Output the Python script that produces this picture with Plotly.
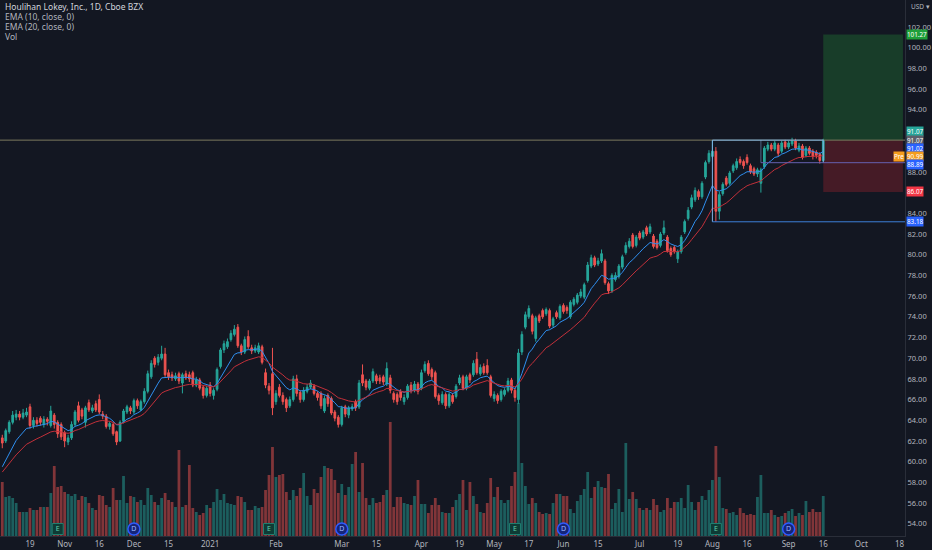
import pandas as pd
import plotly.graph_objects as go

# ---------------- text ----------------
title_text = "Houlihan Lokey, Inc., 1D, Cboe BZX"
legend_lines = ["EMA (10, close, 0)", "EMA (20, close, 0)", "Vol"]
currency_label = "USD ▾"

# ---------------- calendar ----------------
start_date = "2020-10-07"
end_date = "2021-10-29"
holidays = ["2020-11-26", "2020-12-25", "2021-01-01", "2021-01-18", "2021-02-15",
            "2021-04-02", "2021-05-31", "2021-07-05", "2021-09-06"]

tick_dates = ["2020-10-19", "2020-11-02", "2020-11-16", "2020-12-01", "2020-12-15",
              "2021-01-04", "2021-02-01", "2021-03-01", "2021-03-15", "2021-04-01",
              "2021-04-19", "2021-05-03", "2021-05-17", "2021-06-01", "2021-06-15",
              "2021-07-01", "2021-07-19", "2021-08-02", "2021-08-16", "2021-09-01",
              "2021-09-16", "2021-10-01", "2021-10-18"]
tick_labels = ["19", "Nov", "16", "Dec", "15", "2021", "Feb", "Mar", "15", "Apr",
               "19", "May", "17", "Jun", "15", "Jul", "19", "Aug", "16", "Sep",
               "16", "Oct", "18"]
# price-scale labels (those hidden behind badges in the reference are left out)
price_ticks = [54, 56, 58, 60, 62, 64, 66, 68, 70, 72, 74, 76, 78, 80, 82, 84,
               88, 94, 96, 98, 100, 102]

# ---------------- OHLC data (daily) ----------------
opens = [
    62.3, 62.0, 62.9, 63.8, 64.3, 64.6, 64.3, 64.5, 65.3, 63.5,
    64.0, 64.2, 63.6, 64.1, 63.5, 64.5, 63.8, 63.6, 62.8, 61.9,
    62.3, 63.6, 65.4, 65.0, 63.8, 65.7, 64.9, 65.6, 66.0, 64.6,
    64.4, 63.4, 63.6, 62.9, 62.0, 63.9, 64.8, 65.2, 64.8, 65.9,
    65.0, 65.8, 66.8, 68.2, 70.0, 69.6, 70.0, 70.4, 68.6, 68.4,
    68.0, 68.5, 67.6, 68.5, 68.4, 68.6, 67.4, 67.9, 67.2, 66.4,
    67.4, 66.4, 67.0, 69.2, 70.8, 71.1, 71.8, 72.3, 73.0, 71.2,
    70.6, 72.1, 71.0, 70.7, 70.6, 71.1, 68.6, 67.3, 68.5, 65.8,
    67.2, 66.4, 66.0, 65.4, 66.0, 68.0, 66.7, 66.0, 66.8, 67.2,
    67.3, 66.6, 66.6, 64.9, 66.4, 66.1, 64.8, 64.3, 63.6, 65.3,
    64.5, 65.1, 65.8, 65.3, 68.4, 67.8, 67.1, 67.8, 68.3, 68.1,
    68.2, 67.5, 68.1, 66.6, 66.5, 66.8, 65.8, 66.2, 67.4, 66.9,
    67.5, 67.1, 68.8, 69.5, 68.9, 68.6, 66.4, 65.7, 66.5, 65.4,
    66.4, 66.3, 67.6, 68.2, 67.1, 68.4, 68.4, 69.9, 68.5, 69.2,
    69.3, 68.2, 66.1, 66.4, 66.0, 66.5, 66.9, 67.9, 66.9, 66.0,
    70.6, 73.0, 74.0, 74.1, 71.9, 74.1, 74.6, 74.3, 74.6, 73.2,
    74.4, 73.9, 75.1, 74.9, 74.0, 75.2, 75.4, 76.0, 75.9, 77.5,
    78.9, 79.7, 79.1, 79.4, 79.4, 77.2, 76.5, 77.6, 77.9, 78.8,
    80.2, 80.8, 81.9, 80.9, 82.1, 81.7, 82.6, 82.2, 81.8, 81.3,
    80.9, 82.1, 81.7, 80.6, 80.7, 79.6, 80.3, 82.2, 83.5, 84.6,
    85.3, 86.1, 85.6, 87.5, 89.0, 89.5, 90.0, 84.2, 85.9, 87.4,
    86.9, 88.1, 88.4, 89.2, 89.0, 89.4, 88.6, 88.3, 87.8, 86.9,
    88.5, 90.2, 90.6, 90.2, 90.6, 90.0, 90.9, 90.4, 90.7, 91.0,
    90.1, 90.5, 89.6, 90.3, 90.0, 89.9, 89.7, 89.1,
]
highs = [
    62.6, 63.2, 64.0, 64.9, 65.0, 64.9, 65.1, 65.2, 65.6, 64.3,
    64.3, 64.4, 64.4, 64.3, 65.4, 64.7, 64.0, 63.8, 63.0, 62.6,
    63.9, 65.0, 65.8, 65.2, 65.4, 66.0, 65.5, 65.9, 66.5, 64.9,
    64.6, 63.9, 63.8, 63.0, 64.0, 65.1, 65.5, 65.4, 66.1, 66.1,
    66.0, 67.1, 68.8, 69.8, 70.2, 70.4, 71.2, 71.0, 68.9, 68.7,
    68.6, 68.7, 68.6, 68.8, 68.7, 68.8, 68.2, 68.1, 67.4, 67.3,
    67.7, 67.1, 69.1, 71.0, 71.7, 71.9, 72.7, 73.2, 73.3, 71.4,
    72.1, 72.7, 71.3, 71.3, 71.5, 71.3, 69.0, 67.6, 71.0, 66.9,
    67.5, 66.7, 66.2, 66.3, 68.3, 68.4, 66.9, 67.2, 67.5, 67.9,
    67.5, 66.8, 66.8, 66.4, 66.6, 66.3, 65.0, 64.5, 65.4, 65.5,
    65.4, 65.6, 66.0, 67.9, 69.4, 68.0, 68.0, 69.0, 68.5, 68.4,
    68.4, 69.6, 68.4, 66.8, 66.7, 67.0, 66.5, 67.5, 67.7, 67.8,
    67.7, 68.9, 69.7, 69.8, 69.1, 68.8, 66.6, 66.8, 66.7, 66.7,
    66.6, 67.5, 68.4, 68.4, 68.4, 68.6, 69.8, 70.6, 69.4, 69.5,
    69.9, 68.4, 66.8, 66.6, 67.0, 67.1, 68.1, 68.1, 67.1, 70.9,
    72.6, 74.5, 75.1, 74.3, 74.1, 74.3, 74.8, 74.9, 74.8, 74.0,
    74.6, 75.2, 75.3, 75.1, 75.6, 75.9, 76.3, 76.7, 77.3, 79.3,
    80.0, 79.9, 79.7, 80.5, 79.6, 77.4, 78.2, 78.3, 79.1, 80.0,
    81.2, 81.6, 82.1, 81.9, 82.3, 82.4, 82.8, 83.0, 82.0, 81.5,
    82.2, 83.3, 81.9, 80.8, 80.9, 80.5, 81.9, 83.4, 84.6, 85.8,
    86.5, 86.3, 87.1, 89.1, 90.1, 91.07, 90.4, 86.1, 87.0, 87.6,
    88.1, 88.8, 89.3, 89.5, 89.2, 89.7, 88.8, 88.5, 88.4, 88.4,
    90.5, 90.9, 90.8, 91.0, 90.8, 91.0, 91.1, 91.0, 91.3, 91.2,
    90.8, 90.7, 90.5, 90.5, 90.2, 90.1, 89.9, 91.2,
]
lows = [
    61.3, 61.8, 62.7, 63.6, 64.0, 64.0, 64.1, 64.3, 63.2, 63.2,
    63.4, 63.5, 63.3, 63.5, 63.3, 63.2, 62.3, 62.1, 61.4, 61.6,
    62.1, 63.4, 63.8, 64.1, 63.3, 64.8, 64.7, 64.8, 64.6, 64.1,
    63.2, 63.1, 62.5, 61.6, 61.9, 63.7, 64.6, 64.6, 64.6, 65.1,
    64.9, 65.6, 66.6, 68.0, 69.1, 69.3, 69.8, 68.2, 67.9, 67.8,
    67.8, 67.5, 66.6, 67.9, 67.7, 67.2, 67.2, 66.9, 66.1, 66.2,
    66.3, 66.0, 66.8, 69.0, 70.5, 70.9, 71.6, 72.1, 71.0, 70.3,
    70.4, 70.9, 70.4, 70.5, 70.4, 69.4, 67.1, 66.5, 64.5, 65.5,
    66.2, 65.5, 64.8, 65.2, 65.8, 66.3, 65.7, 65.8, 66.6, 67.0,
    66.4, 65.9, 65.1, 64.7, 65.3, 64.5, 63.9, 63.3, 63.4, 64.3,
    64.2, 64.9, 64.9, 65.1, 67.3, 66.9, 66.9, 67.6, 67.5, 67.5,
    67.4, 67.3, 66.6, 65.7, 65.5, 65.9, 65.5, 66.0, 66.6, 66.7,
    66.5, 66.9, 68.6, 68.3, 67.9, 66.1, 65.5, 65.5, 65.1, 65.2,
    65.6, 66.1, 67.4, 66.9, 66.9, 67.6, 68.2, 68.4, 68.3, 68.4,
    68.4, 66.2, 65.8, 65.6, 65.8, 66.3, 66.7, 66.6, 65.8, 65.6,
    70.3, 72.8, 73.8, 72.3, 71.6, 73.4, 73.8, 74.1, 72.9, 73.0,
    73.8, 73.7, 74.3, 74.3, 73.8, 75.0, 75.2, 75.8, 75.7, 77.3,
    78.7, 78.8, 78.9, 79.2, 77.1, 76.2, 76.3, 77.4, 77.7, 78.6,
    80.0, 80.6, 80.6, 80.7, 81.4, 81.5, 81.8, 82.0, 80.6, 80.5,
    80.7, 81.9, 80.2, 79.8, 80.1, 79.2, 80.1, 82.0, 83.3, 84.4,
    85.1, 85.3, 85.4, 87.3, 88.8, 89.3, 83.18, 83.4, 85.7, 86.6,
    86.7, 87.9, 88.2, 88.7, 88.3, 88.7, 87.8, 87.6, 87.5, 86.0,
    88.3, 90.0, 90.0, 90.0, 89.5, 89.8, 90.2, 90.2, 90.5, 90.1,
    89.9, 89.2, 89.4, 89.6, 89.2, 89.3, 88.8, 89.0,
]
closes = [
    61.8, 63.0, 63.8, 64.5, 64.6, 64.3, 64.7, 64.8, 63.5, 64.0,
    63.7, 63.8, 64.1, 63.9, 64.9, 63.6, 62.7, 62.4, 62.0, 62.3,
    63.6, 64.8, 64.0, 64.4, 65.2, 65.0, 65.2, 65.0, 64.8, 64.4,
    63.4, 63.7, 62.7, 61.9, 63.8, 64.9, 65.3, 64.9, 65.9, 65.4,
    65.8, 66.8, 68.5, 69.5, 69.4, 70.1, 70.4, 68.4, 68.2, 68.1,
    68.3, 67.8, 68.4, 68.1, 68.0, 67.4, 67.9, 67.1, 66.4, 67.1,
    66.6, 66.9, 68.9, 70.8, 71.4, 71.6, 72.4, 72.8, 71.2, 70.6,
    71.8, 71.1, 70.7, 71.0, 71.2, 69.6, 67.4, 66.9, 65.2, 66.6,
    66.4, 65.8, 65.2, 66.0, 68.0, 66.6, 66.0, 66.9, 67.2, 67.6,
    66.6, 66.2, 65.4, 66.1, 65.6, 64.7, 64.2, 63.6, 65.2, 64.6,
    65.2, 65.3, 65.2, 67.6, 67.6, 67.2, 67.8, 68.7, 67.8, 67.8,
    67.7, 69.0, 66.9, 66.0, 65.8, 66.2, 66.2, 67.3, 66.9, 67.5,
    66.8, 68.6, 69.4, 68.5, 68.2, 66.3, 65.9, 66.5, 65.4, 66.5,
    65.8, 67.3, 68.1, 67.1, 68.2, 67.9, 69.5, 68.6, 69.1, 68.6,
    68.6, 66.4, 66.5, 65.9, 66.8, 66.9, 67.8, 66.9, 66.2, 70.5,
    72.3, 74.2, 74.8, 72.6, 73.9, 73.6, 74.0, 74.7, 73.1, 73.8,
    74.0, 75.0, 74.5, 74.6, 75.4, 75.7, 76.1, 76.4, 77.1, 79.0,
    79.7, 79.0, 79.4, 80.1, 77.3, 76.5, 78.0, 78.0, 78.9, 79.8,
    80.9, 81.3, 80.8, 81.7, 81.6, 82.2, 82.0, 82.7, 80.8, 80.7,
    82.0, 82.6, 80.4, 80.0, 80.3, 80.3, 81.7, 83.2, 84.3, 85.5,
    86.2, 85.6, 86.9, 88.9, 89.8, 90.0, 84.2, 85.8, 86.8, 86.8,
    87.9, 88.6, 89.0, 88.9, 88.6, 88.9, 88.0, 87.8, 88.2, 88.2,
    90.3, 90.6, 90.2, 90.8, 89.8, 90.8, 90.4, 90.8, 91.0, 90.3,
    90.5, 89.4, 90.3, 89.8, 89.5, 89.6, 89.1, 91.07,
]
volumes_k = [
    648, 468, 480, 456, 396, 288, 288, 288, 336, 312,
    312, 348, 348, 348, 516, 840, 588, 600, 528, 504,
    480, 504, 432, 480, 468, 396, 336, 312, 492, 480,
    372, 348, 576, 432, 432, 720, 396, 480, 468, 408,
    432, 372, 576, 492, 408, 372, 456, 516, 432, 408,
    348, 1032, 348, 372, 852, 336, 288, 252, 276, 372,
    336, 408, 564, 432, 504, 396, 384, 372, 480, 468,
    408, 312, 312, 360, 336, 348, 552, 732, 1068, 708,
    732, 744, 528, 432, 552, 480, 576, 756, 480, 372,
    564, 516, 708, 840, 816, 804, 672, 516, 624, 492,
    588, 864, 1008, 528, 876, 456, 372, 456, 396, 408,
    492, 552, 1368, 348, 468, 468, 396, 384, 372, 480,
    672, 384, 384, 276, 372, 456, 372, 288, 276, 276,
    348, 432, 504, 672, 312, 648, 480, 384, 288, 276,
    396, 696, 468, 588, 432, 396, 432, 600, 768, 1596,
    876, 600, 384, 456, 396, 288, 264, 276, 264, 396,
    504, 504, 480, 480, 324, 276, 420, 492, 564, 768,
    456, 588, 660, 588, 576, 744, 324, 396, 564, 288,
    1116, 444, 528, 444, 336, 312, 336, 312, 444, 372,
    288, 312, 456, 336, 408, 408, 456, 336, 612, 408,
    312, 408, 480, 432, 552, 672, 1080, 708, 336, 324,
    276, 288, 252, 336, 276, 252, 264, 252, 468, 732,
    276, 276, 312, 252, 228, 240, 276, 300, 324, 240,
    276, 252, 420, 288, 324, 288, 288, 480,
]
ema10_seed = 59.0
ema20_seed = 58.7

earnings_dates = ["2020-10-29", "2021-01-28", "2021-05-11", "2021-08-03"]
dividend_dates = ["2020-12-01", "2021-03-01", "2021-06-01", "2021-09-01"]

# drawings (long position + levels)
entry_price = 91.07
target_price = 101.27
stop_price = 86.07
range_low = 83.18
range_mid = 88.89
box_start = "2021-08-02"
mid_start = "2021-08-20"
last_date = "2021-09-16"
position_end = "2021-10-19"

# right-scale badges: (text, colour, value shown at)
badges = [
    ("101.27", "#1e9f3a", 101.27),
    ("91.07", "#26a69a", 91.94),
    ("91.07", "#5d606b", 91.07),
    ("91.02", "#2962ff", 90.30),
    ("90.99", "#f59d1c", 89.52),
    ("88.89", "#2962ff", 88.75),
    ("86.07", "#f23645", 86.07),
    ("83.18", "#2962ff", 83.18),
]
pre_label = ("Pre", "#f59d1c", 89.52)

# ---------------- derived ----------------
calendar = [d for d in pd.bdate_range(start_date, end_date)
            if d.strftime("%Y-%m-%d") not in holidays]
pos = {d.strftime("%Y-%m-%d"): i for i, d in enumerate(calendar)}
n = len(closes)
xs = list(range(n))

UP = "#26a69a"
DOWN = "#ef5350"
BG = "#131722"
TXT = "#b2b5be"

vol_colors = ["rgba(38,166,154,0.5)" if c >= o else "rgba(239,83,80,0.5)"
              for o, c in zip(opens, closes)]


def ema(values, length, seed):
    a = 2.0 / (length + 1)
    out, prev = [], seed
    for v in values:
        prev = a * v + (1 - a) * prev
        out.append(prev)
    return out


ema10 = ema(closes, 10, ema10_seed)
ema20 = ema(closes, 20, ema20_seed)

fig = go.Figure()
fig.add_trace(go.Bar(x=xs, y=volumes_k, marker_color=vol_colors, marker_line_width=0,
                     width=0.8, yaxis="y", hoverinfo="skip", showlegend=False))
fig.add_trace(go.Scatter(
    x=[pos[d] for d in earnings_dates], y=[84] * len(earnings_dates), yaxis="y",
    mode="markers+text", text=["E"] * len(earnings_dates),
    textfont=dict(size=7, color="#5fd3b0", family="Noto Sans"),
    marker=dict(symbol="square", size=11, color="#0e3b35",
                line=dict(color="#1f7f6f", width=1)),
    showlegend=False, hoverinfo="skip"))
fig.add_trace(go.Scatter(
    x=[pos[d] for d in dividend_dates], y=[84] * len(dividend_dates), yaxis="y",
    mode="markers+text", text=["D"] * len(dividend_dates),
    textfont=dict(size=7, color="#9db7ff", family="Noto Sans"),
    marker=dict(symbol="circle", size=12, color="#15247a",
                line=dict(color="#2f5bff", width=1.5)),
    showlegend=False, hoverinfo="skip"))
fig.add_trace(go.Candlestick(
    x=xs, open=opens, high=highs, low=lows, close=closes, yaxis="y2",
    increasing=dict(line=dict(color=UP, width=1), fillcolor=UP),
    decreasing=dict(line=dict(color=DOWN, width=1), fillcolor=DOWN),
    whiskerwidth=0, showlegend=False, hoverinfo="skip"))
fig.add_trace(go.Scatter(x=xs, y=ema10, yaxis="y2", mode="lines",
                         line=dict(color="#2f8ff0", width=1), showlegend=False,
                         hoverinfo="skip"))
fig.add_trace(go.Scatter(x=xs, y=ema20, yaxis="y2", mode="lines",
                         line=dict(color="#c2303a", width=1), showlegend=False,
                         hoverinfo="skip"))

shapes = [
    dict(type="rect", xref="x", yref="y2", x0=pos[last_date], x1=pos[position_end],
         y0=entry_price, y1=target_price, fillcolor="rgba(40,160,60,0.28)",
         line=dict(width=0), layer="below"),
    dict(type="rect", xref="x", yref="y2", x0=pos[last_date], x1=pos[position_end],
         y0=stop_price, y1=entry_price, fillcolor="rgba(220,40,50,0.25)",
         line=dict(width=0), layer="below"),
    dict(type="line", xref="paper", yref="y2", x0=0, x1=1, y0=entry_price,
         y1=entry_price, line=dict(color="#7b7a5e", width=1)),
    dict(type="line", xref="x", yref="y2", x0=pos[box_start], x1=pos[last_date],
         y0=entry_price, y1=entry_price, line=dict(color="#7fb5e6", width=1)),
    dict(type="line", xref="x", yref="y2", x0=pos[box_start], x1=pos[box_start],
         y0=entry_price, y1=range_low, line=dict(color="#7fb5e6", width=1)),
    dict(type="line", xref="x", yref="y2", x0=pos[last_date], x1=pos[last_date],
         y0=entry_price, y1=range_mid, line=dict(color="#7fb5e6", width=1)),
    dict(type="line", xref="x", yref="y2", x0=pos[mid_start], x1=pos[mid_start],
         y0=entry_price, y1=range_mid, line=dict(color="rgba(127,181,230,0.5)", width=1)),
    dict(type="line", xref="x", yref="y2", x0=pos[box_start], x1=pos[position_end] + 2,
         y0=range_low, y1=range_low, line=dict(color="#3d7fd9", width=1)),
    dict(type="line", xref="x", yref="y2", x0=pos[mid_start], x1=pos[position_end] + 2,
         y0=range_mid, y1=range_mid, line=dict(color="#6660b0", width=1)),
]

annotations = [
    dict(xref="paper", yref="paper", x=0, y=1, xanchor="left", yanchor="middle",
         xshift=3, yshift=-6, text=title_text, showarrow=False,
         font=dict(size=8.5, color="#d1d4dc", family="Noto Sans")),
]
for k, line in enumerate(legend_lines):
    annotations.append(dict(xref="paper", yref="paper", x=0, y=1, xanchor="left",
                            yanchor="middle", xshift=3, yshift=-16 - 10.3 * k,
                            text=line, showarrow=False,
                            font=dict(size=8.5, color=TXT, family="Noto Sans")))
annotations.append(dict(xref="paper", yref="paper", x=1, y=1, xanchor="left",
                        yanchor="middle", xshift=4, yshift=-6, text=currency_label,
                        showarrow=False, font=dict(size=6.5, color=TXT, family="Noto Sans")))
for text, color, yv in badges:
    annotations.append(dict(xref="paper", yref="y2", x=1, y=yv, xanchor="left",
                            yanchor="middle", xshift=1, text=text, showarrow=False,
                            bgcolor=color, borderpad=0,
                            font=dict(size=6.3, color="#ffffff", family="Noto Sans")))
annotations.append(dict(xref="paper", yref="y2", x=1, y=pre_label[2], xanchor="right",
                        yanchor="middle", xshift=0, text=pre_label[0], showarrow=False,
                        bgcolor=pre_label[1], borderpad=0,
                        font=dict(size=6.3, color="#ffffff", family="Noto Sans")))

fig.update_layout(
    width=932, height=550,
    margin=dict(l=0, r=27, t=0, b=14),
    paper_bgcolor=BG, plot_bgcolor=BG,
    showlegend=False, bargap=0.2,
    shapes=shapes, annotations=annotations,
    xaxis=dict(range=[-0.66, 260.6], tickvals=[pos[d] for d in tick_dates],
               ticktext=tick_labels, showgrid=False, zeroline=False,
               rangeslider=dict(visible=False), ticks="", showline=True,
               linecolor="#2a2e39", tickfont=dict(size=8, color=TXT, family="Noto Sans")),
    yaxis=dict(range=[0, 6432], visible=False, fixedrange=True),
    yaxis2=dict(range=[52.82, 104.61], overlaying="y", side="right",
                tickvals=price_ticks, tickformat=".2f", showgrid=False,
                zeroline=False, ticks="", showline=True, linecolor="#2a2e39",
                tickfont=dict(size=7.5, color=TXT, family="Noto Sans")),
)

fig.write_html("out.html",
               config={"displayModeBar": False},
               post_script="document.body.style.margin='0px';"
                           "document.body.style.background='#131722';")
